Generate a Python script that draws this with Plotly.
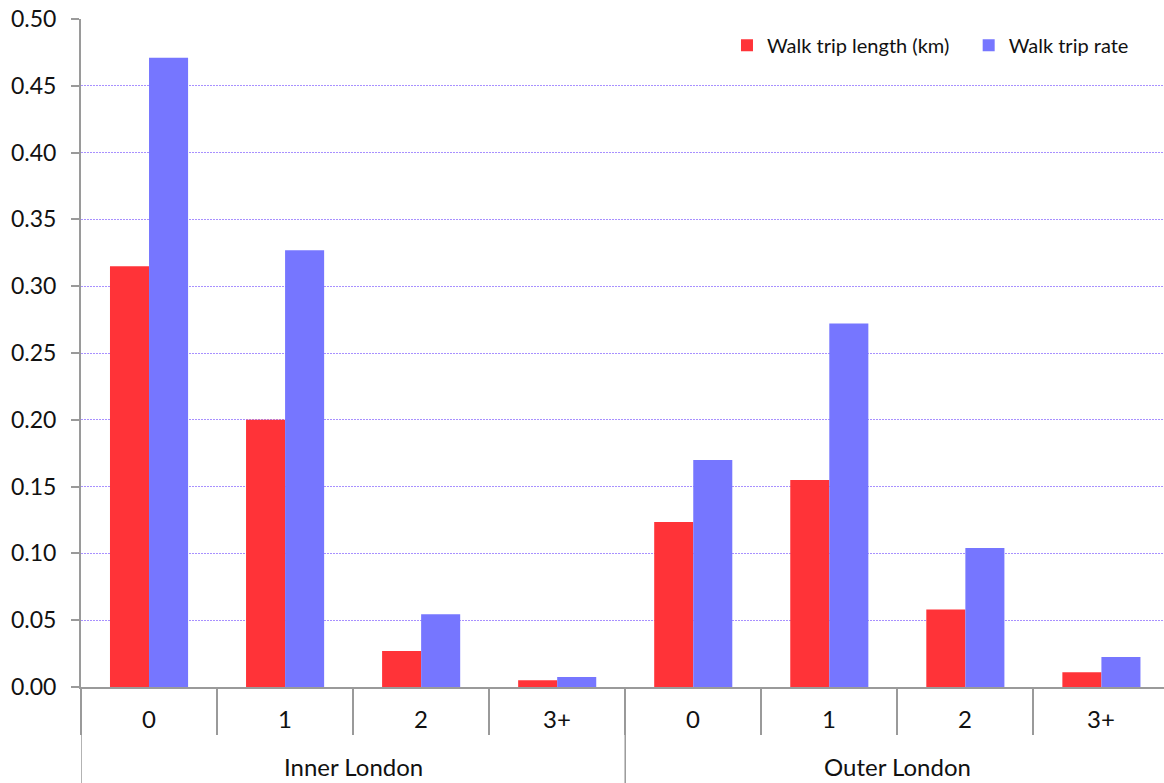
import plotly.graph_objects as go

regions = ["Inner London"] * 4 + ["Outer London"] * 4
cars = ["0", "1", "2", "3+"] * 2
group_names = ["Inner London", "Outer London"]
trip_length = [0.315, 0.200, 0.027, 0.005, 0.1235, 0.155, 0.058, 0.011]
trip_rate = [0.471, 0.327, 0.0545, 0.0075, 0.170, 0.272, 0.104, 0.0225]
tick_vals = [i * 0.05 for i in range(11)]
tick_text = [f"{v:.2f}" for v in tick_vals]

FONT = "Lato, Open Sans, sans-serif"
AXIS_GREY = "#9a9a9a"

fig = go.Figure()
fig.add_trace(go.Bar(x=[regions, cars], y=trip_length, name="Walk trip length (km)",
                     marker=dict(color="#ff3338", line=dict(width=0)), legend="legend"))
fig.add_trace(go.Bar(x=[regions, cars], y=trip_rate, name="Walk trip rate",
                     marker=dict(color="#7676ff", line=dict(width=0)), legend="legend2"))

# sub-category labels (number of cars) placed under each category slot
for i, lab in enumerate(cars):
    fig.add_annotation(x=i, y=0, xref="x", yref="y", text=lab, showarrow=False,
                       yshift=-31, font=dict(size=24, color="#111111"))
# group labels centred under each group of four
for g, name in enumerate(group_names):
    fig.add_annotation(x=g * 4 + 1.5, y=0, xref="x", yref="y", text=name, showarrow=False,
                       yshift=-79, font=dict(size=24, color="#111111"))
# group dividers spanning the full label area
for xb in (-0.5, 3.5):
    fig.add_shape(type="line", xref="x", yref="paper", x0=xb, x1=xb, y0=0, y1=-96 / 668,
                  line=dict(color=AXIS_GREY, width=1.5))

legend_common = dict(orientation="h", xanchor="right", y=0.99, yanchor="top",
                     font=dict(size=20), bgcolor="rgba(0,0,0,0)")
fig.update_layout(
    width=1164, height=783,
    margin=dict(l=81, r=0, t=19, b=96),
    paper_bgcolor="white", plot_bgcolor="white",
    barmode="group", bargap=0.426, bargroupgap=0,
    font=dict(family=FONT, size=20, color="#111111"),
    legend=dict(x=0.807, **legend_common),
    legend2=dict(x=0.972, **legend_common),
    showlegend=True,
)
fig.update_yaxes(range=[0, 0.5], tickvals=tick_vals, ticktext=tick_text,
                 showgrid=True, gridcolor="#a890ff", griddash="2px,1px", gridwidth=1,
                 showline=True, linecolor=AXIS_GREY, linewidth=2,
                 ticks="outside", ticklen=8, tickcolor=AXIS_GREY, tickwidth=1.5,
                 ticklabelstandoff=10, ticklabeloverflow="allow",
                 zeroline=False, tickfont=dict(size=23), automargin=False)
fig.update_xaxes(type="multicategory", range=[-0.5, 7.46], showticklabels=False,
                 showline=True, linecolor=AXIS_GREY, linewidth=2,
                 ticks="outside", tickson="boundaries", ticklen=46, tickcolor=AXIS_GREY,
                 tickwidth=1.5, showdividers=False, automargin=False)

fig.write_html("out.html", config={"displayModeBar": False},
               post_script="document.body.style.margin='0';")
